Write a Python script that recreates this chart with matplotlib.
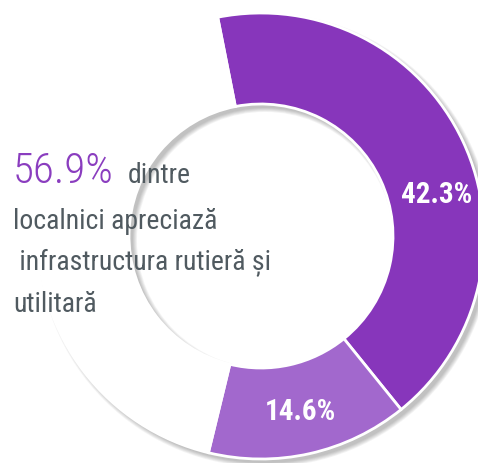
import numpy as np
import matplotlib.pyplot as plt
from matplotlib import font_manager
from matplotlib.patches import Wedge

# slices, clockwise starting just left of 12 o'clock
shares = [42.3, 14.6, 43.1]
slice_colors = ['#8736BB', '#A268CD', '#FFFFFF']
slice_labels = ['42.3%', '14.6%', '']
label_shift = [-12, 0, 0]   # degrees; the big label sits lower than its slice middle

headline = '56.9%'
caption = ['dintre', 'localnici apreciază', ' infrastructura rutieră și', 'utilitară']

# pick a narrow font if there is one
names = {f.name for f in font_manager.fontManager.ttflist}
stretch = 'normal'
if 'Roboto Condensed' in names:
    fam = 'Roboto Condensed'
elif 'Liberation Sans Narrow' in names:
    fam = 'Liberation Sans Narrow'
elif any(f.name == 'DejaVu Sans' and f.stretch == 'condensed' for f in font_manager.fontManager.ttflist):
    fam = 'DejaVu Sans'
    stretch = 'condensed'
else:
    fam = 'Roboto'
fonts = [fam, 'DejaVu Sans']

W, H = 478, 463
fig = plt.figure(figsize=(W / 100, H / 100), dpi=100)
ax = fig.add_axes([0, 0, 1, 1])

cx, cy = 261, H - 236   # ring centre
R, r = 223, 132         # outer / inner radius

# soft drop shadow under the ring, thrown down and to the right
for k in range(6):
    ax.add_patch(Wedge((cx + 4, cy - 4), R + k * 0.8, 0, 360, width=R - r + k * 1.6,
                       facecolor='black', alpha=0.045, lw=0))

wedges, _ = ax.pie(shares, colors=slice_colors, startangle=101.2, counterclock=False,
                   center=(cx, cy), radius=R,
                   wedgeprops=dict(width=R - r, edgecolor='white', linewidth=2))

for w, lab, sh in zip(wedges, slice_labels, label_shift):
    if not lab:
        continue
    a = np.deg2rad((w.theta1 + w.theta2) / 2 + sh)
    rr = (R + r) / 2 + 3
    ax.text(cx + rr * np.cos(a), cy + rr * np.sin(a), lab, color='white',
            fontsize=21, fontweight='bold', family=fonts, fontstretch=stretch,
            ha='center', va='center')

# headline text on the left
ax.text(13, H - 183, headline, color='#8A3DBF', fontsize=31, fontweight='light',
        family=fonts, fontstretch=stretch, va='baseline', ha='left')
ax.text(128, H - 183, caption[0], color='#505A60', fontsize=20, family=fonts,
        fontstretch=stretch, va='baseline', ha='left')
for i, line in enumerate(caption[1:]):
    ax.text(13, H - 229 - i * 41.5, line, color='#505A60', fontsize=20, family=fonts,
            fontstretch=stretch, va='baseline', ha='left')

ax.set_xlim(0, W)
ax.set_ylim(0, H)
ax.set_aspect('equal')
ax.axis('off')

fig.savefig('out.png', dpi=100)
